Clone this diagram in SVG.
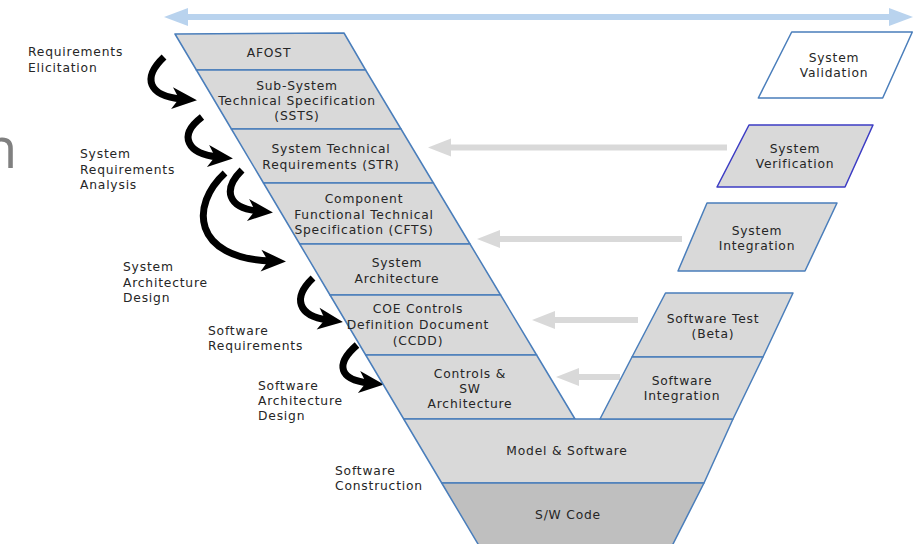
<svg xmlns="http://www.w3.org/2000/svg" width="921" height="544" viewBox="0 0 921 544">
<defs>
<style>
.band{fill:#d9d9d9;stroke:#4a7ebb;stroke-width:1.5;stroke-linejoin:round}
.dark{fill:#bfbfbf}
.white{fill:#ffffff}
.ver{stroke:#3c3cc4}
text{font-family:"DejaVu Sans","Liberation Sans",sans-serif;font-size:12.3px;fill:#262626;letter-spacing:0.8px}
.c{text-anchor:middle}
.big{font-family:"Open Sans",sans-serif;font-size:56px;fill:#808080;letter-spacing:0}
.curve{fill:none;stroke:#000;stroke-width:7;marker-end:url(#blk)}
.back{fill:none;stroke:#d9d9d9;stroke-width:6;marker-end:url(#gry)}
.span{fill:none;stroke:#b9d3ee;stroke-width:6;marker-start:url(#blu);marker-end:url(#blu)}
</style>
<marker id="blk" markerUnits="userSpaceOnUse" markerWidth="30" markerHeight="30" refX="10" refY="12" orient="auto" overflow="visible"><path d="M0,1 L25,12 L0,23 L7,12 Z" fill="#000"/></marker>
<marker id="gry" markerUnits="userSpaceOnUse" markerWidth="30" markerHeight="20" refX="12" refY="9" orient="auto" overflow="visible"><path d="M0,0 L23,9 L0,18 Z" fill="#d9d9d9"/></marker>
<marker id="blu" markerUnits="userSpaceOnUse" markerWidth="30" markerHeight="20" refX="12" refY="9" orient="auto-start-reverse" overflow="visible"><path d="M0,0 L24,9 L0,18 Z" fill="#b9d3ee"/></marker>
</defs>

<text class="big" x="-17" y="168">n</text>

<g id="connectors">
<path class="span" d="M176,17 L901,17"/>
<path class="back" d="M727,147.5 L439,147.5"/>
<path class="back" d="M682,239 L488,239"/>
<path class="back" d="M638,320 L543,320"/>
<path class="back" d="M620,377 L567,377"/>
<path class="curve" d="M164,57 C142,78 148,96 182,99"/>
<path class="curve" d="M202,117 C177,136 188,154 218,157"/>
<path class="curve" d="M242,170 C222,190 228,208 258,211"/>
<path class="curve" d="M225,173 C190,205 192,258 271,261"/>
<path class="curve" d="M313,278 C292,298 298,316 328,320"/>
<path class="curve" d="M357,345 C334,365 340,380 369,383"/>
</g>

<g id="afost"><polygon class="band" points="175,34 344,33 365.6,70 196.4,70"/><text class="c" x="269" y="57">AFOST</text></g>
<g id="ssts"><polygon class="band" points="196.4,70 365.6,70 401,129 231.4,129"/><text class="c" x="297" y="90">Sub-System</text><text class="c" x="297" y="105">Technical Specification</text><text class="c" x="297" y="120">(SSTS)</text></g>
<g id="str"><polygon class="band" points="231.4,129 401,129 433.4,183 263.5,183"/><text class="c" x="331" y="153">System Technical</text><text class="c" x="331" y="169">Requirements (STR)</text></g>
<g id="cfts"><polygon class="band" points="263.5,183 433.4,183 470,244 299.7,244"/><text class="c" x="364" y="203">Component</text><text class="c" x="364" y="219">Functional Technical</text><text class="c" x="364" y="234">Specification (CFTS)</text></g>
<g id="sysarch"><polygon class="band" points="299.7,244 470,244 500.6,295 330,295"/><text class="c" x="397" y="267">System</text><text class="c" x="397" y="283">Architecture</text></g>
<g id="ccdd"><polygon class="band" points="330,295 500.6,295 536.6,355 365.7,355"/><text class="c" x="418" y="313">COE Controls</text><text class="c" x="418" y="329">Definition Document</text><text class="c" x="418" y="345">(CCDD)</text></g>
<g id="controls"><polygon class="band" points="365.7,355 536.6,355 575,419 403.7,419"/><text class="c" x="470" y="378">Controls &amp;</text><text class="c" x="470" y="393">SW</text><text class="c" x="470" y="408">Architecture</text></g>
<g id="model"><polygon class="band" points="403.7,419 733,419 704,483 441.7,483"/><text class="c" x="567" y="455">Model &amp; Software</text></g>
<g id="swcode"><polygon class="band dark" points="441.7,483 704,483 672,546 479.2,546"/><text class="c" x="568" y="519">S/W Code</text></g>
<g id="swtest"><polygon class="band" points="665.5,293 793,293 763,357 632,357"/><text class="c" x="713" y="323">Software Test</text><text class="c" x="713" y="338">(Beta)</text></g>
<g id="swint"><polygon class="band" points="632,357 763,357 733,419 600,419"/><text class="c" x="682" y="385">Software</text><text class="c" x="682" y="400">Integration</text></g>
<g id="sysint"><polygon class="band" points="707,203 837,203 805,271 678,271"/><text class="c" x="757" y="235">System</text><text class="c" x="757" y="250">Integration</text></g>
<g id="sysver"><polygon class="band ver" points="749,125 873,125 845,187 717,187"/><text class="c" x="795" y="153">System</text><text class="c" x="795" y="168">Verification</text></g>
<g id="sysval"><polygon class="band white" points="791.7,32 912.3,32 882.7,98 758.3,98"/><text class="c" x="834" y="62">System</text><text class="c" x="834" y="77">Validation</text></g>

<g id="labels">
<text x="28" y="56">Requirements</text><text x="28" y="72">Elicitation</text>
<text x="80" y="158">System</text><text x="80" y="174">Requirements</text><text x="80" y="189">Analysis</text>
<text x="123" y="271">System</text><text x="123" y="287">Architecture</text><text x="123" y="302">Design</text>
<text x="208" y="335">Software</text><text x="208" y="350">Requirements</text>
<text x="258" y="390">Software</text><text x="258" y="405">Architecture</text><text x="258" y="420">Design</text>
<text x="335" y="475">Software</text><text x="335" y="490">Construction</text>
</g>
</svg>
